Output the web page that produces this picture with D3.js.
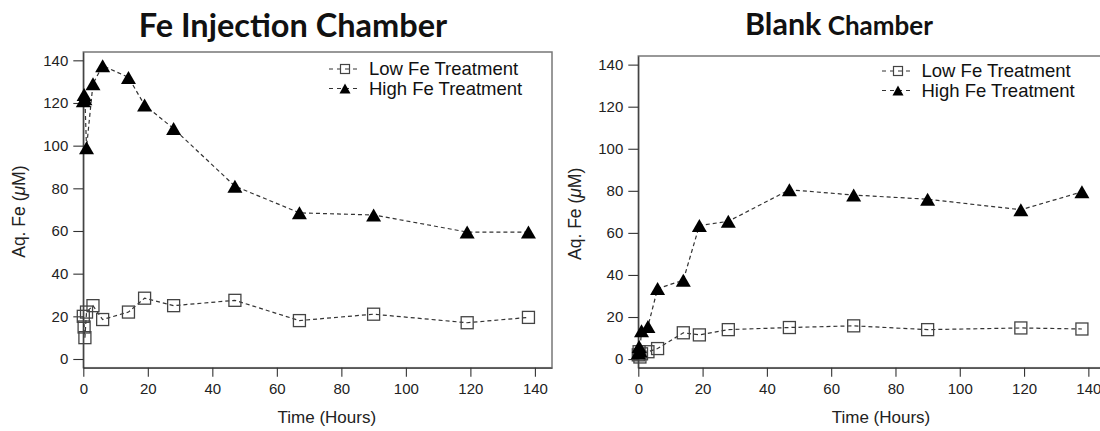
<!DOCTYPE html>
<html>
<head>
<meta charset="utf-8">
<script src="https://cdn.jsdelivr.net/npm/d3@7"></script>
<style>
  html, body { margin: 0; padding: 0; background: #fff; }
  svg { display: block; }
  .tick text { font-family: "Liberation Sans", Arial, sans-serif; font-size: 15px; fill: #222; }
  .tick line, .domain { stroke: #333; stroke-width: 1.1; }
</style>
</head>
<body>
<svg id="chart" width="1100" height="431"></svg>
<script>
// Sampling times (hours) shared by both chambers
const hours = [0, 0.25, 0.5, 1, 3, 6, 14, 19, 28, 47, 67, 90, 119, 138];

// Aqueous Fe (µM), Fe injection chamber
const injectionLow  = [20, 15, 10, 22, 25, 18.5, 22, 28.5, 25, 27.5, 18, 21, 17, 19.5];
const injectionHigh = [121, 124, 122, 99, 129, 137.5, 132, 119, 108, 81, 68.5, 67.5, 59.5, 59.5];

// Aqueous Fe (µM), blank chamber
const blankLow  = [2, 3.5, 1, 2.5, 3.5, 5, 12.5, 11.5, 14, 15, 15.8, 14, 14.8, 14.3];
const blankHigh = [3, 6, 4, 13.5, 15.5, 33.5, 37.5, 63.5, 65.5, 80.5, 78, 76, 71, 79.5];

const seriesNames = ["Low Fe Treatment", "High Fe Treatment"];
const xTicks = [0, 20, 40, 60, 80, 100, 120, 140];
const yTicks = [0, 20, 40, 60, 80, 100, 120, 140];

const svg = d3.select("#chart");

const panels = [
  {
    low: injectionLow, high: injectionHigh,
    xDomain: [0, 145.3], xRange: [83.3, 552],
    yDomain: [-4.08, 143.9], yRange: [367.7, 52],
    yTitleX: 18.5, legend: { lineX0: 329, lineX1: 361, markX: 345, textX: 369, rows: [69, 88.5] }
  },
  {
    low: blankLow, high: blankHigh,
    xDomain: [0, 145.8], xRange: [638.3, 1107],
    yDomain: [-4.1, 144.1], yRange: [367.7, 56],
    yTitleX: 575, legend: { lineX0: 882, lineX1: 914, markX: 898, textX: 921.5, rows: [71, 90.5] }
  }
];

const lineColor = "#333";
const dash = "4,3";

function trianglePath(cx, cy, w, h) {
  return `M${cx},${cy - h / 2}L${cx + w / 2},${cy + h / 2}L${cx - w / 2},${cy + h / 2}Z`;
}

panels.forEach(p => {
  const x = d3.scaleLinear().domain(p.xDomain).range(p.xRange);
  const y = d3.scaleLinear().domain(p.yDomain).range(p.yRange);
  const g = svg.append("g");

  // plot frame
  g.append("rect")
    .attr("x", p.xRange[0]).attr("y", p.yRange[1])
    .attr("width", p.xRange[1] - p.xRange[0])
    .attr("height", p.yRange[0] - p.yRange[1])
    .attr("fill", "none").attr("stroke", "#777").attr("stroke-width", 1.5);

  // axes
  g.append("g")
    .attr("transform", `translate(${p.xRange[0]},0)`)
    .call(d3.axisLeft(y).tickValues(yTicks).tickSize(10).tickSizeOuter(0).tickPadding(5));
  g.append("g")
    .attr("transform", `translate(0,${p.yRange[0]})`)
    .call(d3.axisBottom(x).tickValues(xTicks).tickSize(9).tickSizeOuter(0).tickPadding(7));

  // axis titles
  const yTitle = g.append("text")
    .attr("transform", `translate(${p.yTitleX},${(y(0) + y(140)) / 2 + 2}) rotate(-90)`)
    .attr("text-anchor", "middle").attr("dy", "0.35em")
    .style("font-family", '"Liberation Sans", Arial, sans-serif')
    .style("font-size", "17.5px").style("fill", "#222");
  yTitle.append("tspan").text("Aq. Fe (");
  yTitle.append("tspan").style("font-style", "italic").text("μ");
  yTitle.append("tspan").text("M)");

  g.append("text")
    .attr("x", x(75.5)).attr("y", 417).attr("dy", "0.35em")
    .attr("text-anchor", "middle")
    .style("font-family", '"Liberation Sans", Arial, sans-serif')
    .style("font-size", "17px").style("fill", "#222")
    .text("Time (Hours)");

  const line = d3.line().x((d, i) => x(hours[i])).y(d => y(d));

  [p.low, p.high].forEach(vals => {
    g.append("path")
      .attr("d", line(vals))
      .attr("fill", "none").attr("stroke", lineColor)
      .attr("stroke-width", 1.2).attr("stroke-dasharray", dash);
  });

  // Low Fe: open squares
  g.selectAll(null).data(p.low).join("rect")
    .attr("x", (d, i) => x(hours[i]) - 6)
    .attr("y", d => y(d) - 6)
    .attr("width", 12).attr("height", 12)
    .attr("fill", "none").attr("stroke", "#444").attr("stroke-width", 1.3);

  // High Fe: filled triangles
  g.selectAll(null).data(p.high).join("path")
    .attr("d", (d, i) => trianglePath(x(hours[i]), y(d), 15, 13))
    .attr("fill", "#000");

  // legend
  const L = p.legend;
  seriesNames.forEach((name, k) => {
    const ry = L.rows[k];
    g.append("line")
      .attr("x1", L.lineX0).attr("x2", L.lineX1).attr("y1", ry).attr("y2", ry)
      .attr("stroke", lineColor).attr("stroke-width", 1.2).attr("stroke-dasharray", "4,4");
    if (k === 0) {
      g.append("rect").attr("x", L.markX - 4.5).attr("y", ry - 4.5)
        .attr("width", 9).attr("height", 9)
        .attr("fill", "none").attr("stroke", "#444").attr("stroke-width", 1.2);
    } else {
      g.append("path").attr("d", trianglePath(L.markX, ry, 11, 10)).attr("fill", "#000");
    }
    g.append("text")
      .attr("x", L.textX).attr("y", ry).attr("dy", "0.35em")
      .style("font-family", '"Liberation Sans", Arial, sans-serif')
      .style("font-size", "18.5px").style("fill", "#111")
      .text(name);
  });
});

// panel titles
svg.append("text")
  .attr("x", 293).attr("y", 37).attr("text-anchor", "middle")
  .style("font-family", "Lato, 'Open Sans', sans-serif")
  .style("font-weight", "bold").style("font-size", "32.5px").style("fill", "#111")
  .text("Fe Injection Chamber");

const t2 = svg.append("text")
  .attr("x", 745).attr("y", 35)
  .style("font-family", "Lato, 'Open Sans', sans-serif")
  .style("font-weight", "bold").style("fill", "#111");
t2.append("tspan").style("font-size", "30.5px").text("Blank");
t2.append("tspan").style("font-size", "26px").text(" Chamber");
</script>
</body>
</html>
